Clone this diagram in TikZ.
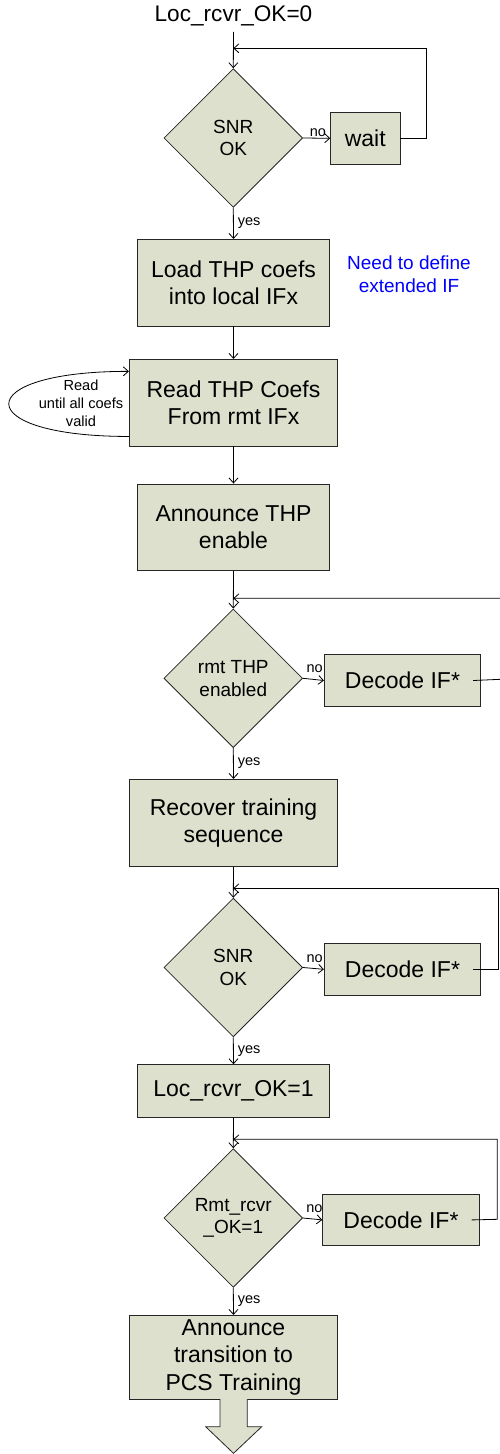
\documentclass[tikz,border=0pt]{standalone}
\usepackage{fontspec}
\setmainfont{Liberation Sans}
\usetikzlibrary{shapes.geometric,arrows.meta}
\definecolor{boxfill}{HTML}{DDE0CC}

\begin{document}
\begin{tikzpicture}[x=1pt,y=-1pt,line width=.8pt,>={Straight Barb[length=5pt,width=9pt]}]
    \tikzstyle{blk}=[draw=black!85,fill=boxfill,align=center,inner sep=0pt,font=\fontsize{23}{27.5}\selectfont]
    \tikzstyle{dec}=[blk,diamond,minimum width=138.7pt,minimum height=138.7pt,font=\fontsize{19}{22.6}\selectfont]
    \tikzstyle{lbl}=[inner sep=1pt,font=\fontsize{14.5}{18}\selectfont]
    \useasboundingbox (0,0) rectangle (499,1454);

    % main column
    \node[anchor=base,font=\fontsize{22.6}{27}\selectfont] (t0) at (233.5,21.7) {Loc\_rcvr\_OK=0};
    \node[dec] (d1) at (233.3,138) {SNR\\OK};
    \node[blk,minimum width=69.3pt,minimum height=52pt] (wait) at (365.3,138.3) {wait};
    \node[blk,minimum width=191.6pt,minimum height=86.7pt] (b1) at (233.5,282.7) {Load THP coefs\\into local IFx};
    \node[blue,align=center,font=\fontsize{19}{23}\selectfont] (note) at (409,274.5) {Need to define\\extended IF};
    \node[blk,minimum width=208.4pt,minimum height=86.7pt] (b2) at (233.5,402.7) {Read THP Coefs\\From rmt IFx};
    \node[align=center,font=\fontsize{14.6}{18}\selectfont] (rd) at (81,403.5) {Read\\until all coefs\\valid};
    \node[blk,minimum width=191.6pt,minimum height=86.7pt] (b3) at (233.5,527.3) {Announce THP\\enable};
    \node[dec] (d2) at (233.3,678.3) {rmt THP\\enabled};
    \node[blk,minimum width=156.4pt,minimum height=52.4pt] (if1) at (402.5,680.5) {Decode IF*};
    \node[blk,minimum width=208.4pt,minimum height=87.4pt] (b4) at (233.5,823) {Recover training\\sequence};
    \node[dec] (d3) at (233.3,967.5) {SNR\\OK};
    \node[blk,minimum width=156.4pt,minimum height=52pt] (if2) at (402.5,969.3) {Decode IF*};
    \node[blk,minimum width=191.6pt,minimum height=52.6pt] (b5) at (233.5,1091) {Loc\_rcvr\_OK=1};
    \node[dec] (d4) at (233.3,1218) {Rmt\_rcvr\\\_OK=1};
    \node[blk,minimum width=156.6pt,minimum height=51.7pt] (if3) at (401,1219.9) {Decode IF*};
    \node[blk,minimum width=208.4pt,minimum height=83.7pt] (b6) at (233.5,1357.2) {Announce\\transition to\\PCS Training};

    % loop junctions
    \coordinate (j1) at (233.3,48.3);
    \coordinate (j2) at (233.3,598.3);
    \coordinate (j3) at (233.3,888.3);
    \coordinate (j4) at (233.3,1139.3);

    % flow
    \draw[->] ([yshift=-2pt]t0.south) -- (d1.north);
    \draw[->] (d1.east) -- (wait.west) node[lbl,pos=.2,anchor=south west] {no};
    \draw[->] (wait.east) -- ++(26,0) |- (j1);
    \draw[->] (d1.south) -- (b1.north) node[lbl,midway,anchor=west,xshift=3pt] {yes};
    \draw[->] (b1.south) -- (b2.north);
    \draw[->] ([yshift=10pt]b2.south west) .. controls +(-160,0) and +(-160,0) .. ([yshift=-12.4pt]b2.north west);
    \draw[->] (b2.south) -- (b3.north);

    \draw[->] (b3.south) -- (d2.north);
    \draw[->] (d2.east) -- (if1.west) node[lbl,pos=.1,anchor=south west,yshift=4pt] {no};
    \draw[->] ([xshift=-8pt]if1.east) -- (500.5,679.3) |- (j2);
    \draw[->] (d2.south) -- (b4.north) node[lbl,midway,anchor=west,xshift=3pt] {yes};

    \draw[->] (b4.south) -- (d3.north);
    \draw[->] (d3.east) -- (if2.west) node[lbl,pos=.1,anchor=south west,yshift=4pt] {no};
    \draw[->] ([xshift=-8pt]if2.east) -- (498.3,969.3) |- (j3);
    \draw[->] (d3.south) -- (b5.north) node[lbl,midway,anchor=west,xshift=3pt] {yes};

    \draw[->] (b5.south) -- (d4.north);
    \draw[->] (d4.east) -- (if3.west) node[lbl,pos=.1,anchor=south west,yshift=4pt] {no};
    \draw[->] ([xshift=-8pt]if3.east) -- (497.3,1219.3) |- (j4);
    \draw[->] (d4.south) -- (b6.north) node[lbl,midway,anchor=west,xshift=3pt] {yes};

    % exit arrow
    \draw[draw=black!85,fill=boxfill] (220,1399) -- (220,1426.7) -- (205.7,1426.7) -- (233.5,1453.3)
                  -- (261.7,1426.7) -- (247.3,1426.7) -- (247.3,1399);
\end{tikzpicture}
\end{document}
